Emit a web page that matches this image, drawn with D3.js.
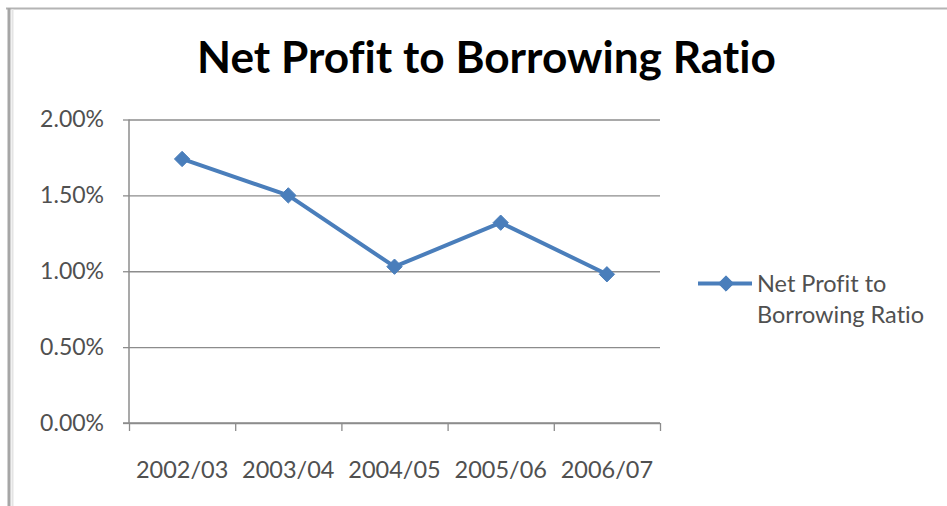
<!DOCTYPE html>
<html><head><meta charset="utf-8">
<script src="https://cdn.jsdelivr.net/npm/d3@7"></script>
<style>
html,body{margin:0;padding:0;background:#fff;}
svg{display:block;}
text{font-variant-ligatures:none;}
</style></head>
<body>
<script>
const title = "Net Profit to Borrowing Ratio";
const categories = ["2002/03","2003/04","2004/05","2005/06","2006/07"];
const values = [0.0174, 0.0150, 0.0103, 0.0132, 0.0098];
const yTicks = [0, 0.005, 0.01, 0.015, 0.02];
const seriesName = ["Net Profit to", "Borrowing Ratio"];

const W = 947, H = 506;
const plot = {left: 129, right: 660, top: 119.5, bottom: 423};
const blue = "#4A7EBB";
const font = "Lato, 'Open Sans', sans-serif";
const labelColor = "#505050";

const svg = d3.select("body").append("svg").attr("width", W).attr("height", H);
svg.append("rect").attr("width", W).attr("height", H).attr("fill", "#fff");

// chart frame (top and left edges visible)
svg.append("line").attr("x1", 6).attr("x2", W).attr("y1", 8.5).attr("y2", 8.5)
  .attr("stroke", "#b4b4b4").attr("stroke-width", 2);
svg.append("line").attr("x1", 9).attr("x2", 9).attr("y1", 8).attr("y2", H)
  .attr("stroke", "#a6a6a6").attr("stroke-width", 3);
svg.append("line").attr("x1", 12.5).attr("x2", 12.5).attr("y1", 9).attr("y2", H)
  .attr("stroke", "#e4e4e4").attr("stroke-width", 2);

const x = d3.scaleBand().domain(categories).range([plot.left, plot.right]).padding(0);
const xb = d3.scaleLinear().domain([0, categories.length]).range([plot.left, plot.right]);
const y = d3.scaleLinear().domain([0, 0.02]).range([plot.bottom, plot.top]);

// gridlines
svg.append("g").attr("transform", `translate(${plot.left},0)`)
  .call(d3.axisLeft(y).tickValues(yTicks).tickSize(-(plot.right - plot.left)).tickFormat(""))
  .call(g => g.select(".domain").remove())
  .call(g => g.selectAll("line").attr("stroke", "#8c8c8c").attr("stroke-width", 1.3));

// y axis
const yAxis = svg.append("g").attr("transform", `translate(${plot.left},0)`)
  .call(d3.axisLeft(y).tickValues(yTicks).tickSize(6).tickPadding(19).tickFormat(d3.format(".2%")));
yAxis.select(".domain").attr("stroke", "#8c8c8c").attr("stroke-width", 1.5).attr("d", `M0,${plot.top}V${plot.bottom}`);
yAxis.selectAll("line").attr("stroke", "#8c8c8c").attr("stroke-width", 1.3);
yAxis.selectAll("text").attr("font-family", font).attr("font-size", 23).attr("fill", labelColor);

// x axis ticks at category boundaries
const xTickAxis = svg.append("g").attr("transform", `translate(0,${plot.bottom})`)
  .call(d3.axisBottom(xb).tickValues(d3.range(categories.length + 1)).tickSize(8).tickFormat(""));
xTickAxis.select(".domain").attr("stroke", "#8c8c8c").attr("stroke-width", 1.5)
  .attr("d", `M${plot.left - 6},0H${plot.right}`);
xTickAxis.selectAll("line").attr("stroke", "#8c8c8c").attr("stroke-width", 1.3);

// x labels
const xAxis = svg.append("g").attr("transform", `translate(0,${plot.bottom})`)
  .call(d3.axisBottom(x).tickSize(0).tickPadding(38));
xAxis.select(".domain").remove();
xAxis.selectAll("text").attr("font-family", font).attr("font-size", 23.5).attr("fill", labelColor);

// line
const data = categories.map((c, i) => ({c, v: values[i]}));
svg.append("path").datum(data)
  .attr("fill", "none").attr("stroke", blue).attr("stroke-width", 4).attr("stroke-linejoin", "round")
  .attr("d", d3.line().x(d => x(d.c) + x.bandwidth() / 2).y(d => y(d.v)));

const diamond = d3.symbol().type(d3.symbolDiamond2).size(150);
svg.append("g").selectAll("path").data(data).join("path")
  .attr("transform", d => `translate(${x(d.c) + x.bandwidth() / 2},${y(d.v)})`)
  .attr("d", diamond).attr("fill", blue).attr("stroke", blue).attr("stroke-width", 1);

// title
const t = svg.append("text").attr("x", 486.5).attr("y", 73).attr("text-anchor", "middle")
  .attr("font-family", font).attr("font-weight", "bold").attr("font-size", 40).attr("fill", "#000")
  .text(title);
const tw = t.node().getComputedTextLength();
t.attr("font-size", 40 * 579 / tw);

// legend
const lg = svg.append("g");
lg.append("line").attr("x1", 698).attr("x2", 752).attr("y1", 283.5).attr("y2", 283.5)
  .attr("stroke", blue).attr("stroke-width", 4);
lg.append("path").attr("transform", "translate(726,283.5)").attr("d", diamond)
  .attr("fill", blue).attr("stroke", blue);
lg.selectAll("text").data(seriesName).join("text")
  .attr("x", 757).attr("y", (d, i) => 292 + i * 31)
  .attr("font-family", font).attr("font-size", 23.5).attr("fill", labelColor)
  .text(d => d);
</script>
</body></html>
